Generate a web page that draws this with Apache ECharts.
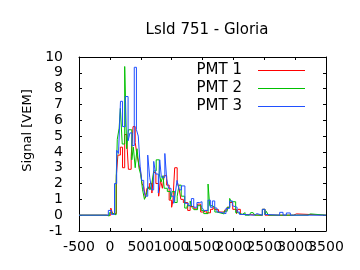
<!DOCTYPE html>
<html><head><meta charset="utf-8">
<script src="https://cdn.jsdelivr.net/npm/echarts@6/dist/echarts.min.js"></script>
<style>html,body{margin:0;padding:0;background:#fff}#c{width:360px;height:270px}</style>
</head><body><div id="c"></div>
<script>
const chartTitle = 'LsId 751 - Gloria';
const yName = 'Signal [VEM]';
const seriesNames = ['PMT 1', 'PMT 2', 'PMT 3'];

// PMT 1 (red): step start times [ns] and values [VEM]
const t1 = [-500,-460,-430,15,45,105,130,170,205,240,275,300,345,375,410,440,470,495,520,548,575,600,640,680,710,745,790,820,850,880,920,960,1000,1020,1050,1090,1120,1150,1190,1260,1300,1360,1420,1470,1520,1560,1630,1670,1700,1760,1860,1900,1940,1990,2050,2075,2113,2150,2470,2512,2976,3020,3500];
const v1 = [0,-0.1,0,0.45,0.1,2.5,3.8,4.3,3.0,5.1,4.6,2.9,3.7,5.6,4.6,3.8,3.2,2.8,2.0,1.8,1.1,1.7,2.0,1.4,2.7,2.0,1.2,2.2,1.7,2.5,1.9,0.95,0.5,0.9,3.0,2.1,1.7,1.0,0.8,0.3,0.55,0.4,0.7,0.2,0.3,0.15,0.37,0.5,0.35,0.2,0.33,0.5,0.8,0.37,0.1,0.37,0.05,0,0.37,0,0.08,0,0];

// PMT 2 (green)
const t2 = [-500,-60,-10,30,60,100,120,150,170,200,240,272,300,355,380,410,440,470,500,530,560,590,620,650,680,710,750,800,830,860,880,930,980,1010,1050,1090,1120,1155,1212,1250,1300,1330,1360,1420,1480,1520,1590,1617,1660,1700,1735,1850,1900,1940,1967,2037,2070,2145,2190,2260,2280,2320,2345,2470,2512,2534,2566,3208,3246,3500];
const v2 = [0,-0.05,0.15,0.05,0.02,2.0,4.8,5.5,6.75,4.5,9.4,4.2,5.4,3.5,4.3,3.0,4.2,3.0,2.55,1.6,1.0,1.3,1.8,1.6,2.0,2.8,3.5,2.6,2.1,2.5,1.7,1.5,1.0,1.5,0.8,1.2,1.9,1.2,0.45,0.6,0.9,0.5,0.35,0.6,0.3,0.1,1.97,0.6,0.5,0.2,0.08,0.25,0.5,1.06,0.85,0.16,0.05,0.16,0,-0.03,0.16,0.05,0,0.37,0.05,0.24,0,0.08,0,0];

// PMT 3 (blue)
const t3 = [-500,-25,25,75,110,140,172,205,250,295,325,360,395,430,460,490,515,548,580,613,645,677,710,742,785,807,834,890,920,950,990,1034,1060,1088,1120,1160,1215,1270,1320,1358,1410,1455,1492,1520,1590,1627,1660,1698,1735,1770,1880,1940,1984,2000,2060,2100,2145,2340,2380,2469,2512,2540,2750,2804,2858,2922,3500];
const v3 = [0,0.3,0.05,2.0,4.1,3.9,7.2,5.6,7.5,4.7,5.2,4.4,9.35,5.4,5.0,3.1,2.2,1.6,1.2,3.8,2.4,1.6,3.4,2.6,1.4,3.5,2.4,3.9,2.3,1.7,1.2,0.75,1.4,2.2,1.6,1.85,0.75,0.6,1.05,0.5,0.8,0.85,0.5,0.3,0.95,0.5,0.9,0.45,0.2,0.1,0.43,0.9,0.6,0.5,0.2,0.05,0,0.1,0,0.37,0.05,0,0.18,0,0.14,0,0];

// tick labels (x labels are split over two label rows so none of them is dropped)
const xTickLabels = [-500, 0, 500, 1000, 1500, 2000, 2500, 3000, 3500];
const xLabelsA = [-500, 500, 1500, 2500, 3500];
const xLabelsB = [0, 1000, 2000, 3000];
const yTickLabels = [-1, 0, 1, 2, 3, 4, 5, 6, 7, 8, 9, 10];
const colors = ['#ff0000', '#00c000', '#2050ff'];

const pairs = (t, v) => t.map((x, i) => [x, v[i]]);
const FONT = 'DejaVu Sans';
const chart = echarts.init(document.getElementById('c'), null, {renderer: 'canvas'});
const xMin = xTickLabels[0], xMax = xTickLabels[xTickLabels.length - 1];
const yMin = yTickLabels[0], yMax = yTickLabels[yTickLabels.length - 1];
const lineOn = {show: true, onZero: false, lineStyle: {color: '#000', width: 1}};
const xTick = {show: true, inside: true, length: 3, lineStyle: {color: '#000'}, customValues: xTickLabels};
const yTick = {show: true, inside: true, length: 3, lineStyle: {color: '#000'}, customValues: yTickLabels};
const plain = v => String(v);
const xLabelStyle = {fontFamily: FONT, fontSize: 14, color: '#000', margin: 9, formatter: plain,
  hideOverlap: false, showMinLabel: true, showMaxLabel: true};
chart.setOption({
  animation: false,
  backgroundColor: '#fff',
  title: {text: chartTitle, left: 202, top: 18, textAlign: 'center',
    textStyle: {fontFamily: FONT, fontSize: 15, fontWeight: 'normal', color: '#000'}},
  grid: {left: 79, right: 34, top: 57, bottom: 39, containLabel: false},
  legend: {orient: 'vertical', right: 50, top: 58, align: 'right', icon: 'rect',
    itemWidth: 47, itemHeight: 1, itemGap: 3,
    data: seriesNames,
    textStyle: {fontFamily: FONT, fontSize: 15, color: '#000', padding: [0, 11, 0, 0]}},
  xAxis: [
    {type: 'value', min: xMin, max: xMax, position: 'bottom', axisLine: lineOn, axisTick: xTick,
      splitLine: {show: false}, axisLabel: Object.assign({customValues: xLabelsA}, xLabelStyle)},
    {type: 'value', min: xMin, max: xMax, position: 'top', axisLine: lineOn, axisTick: xTick,
      splitLine: {show: false}, axisLabel: {show: false}},
    {type: 'value', min: xMin, max: xMax, position: 'bottom', offset: 0, axisLine: {show: false},
      axisTick: {show: false}, splitLine: {show: false},
      axisLabel: Object.assign({customValues: xLabelsB}, xLabelStyle)}
  ],
  yAxis: [
    {type: 'value', min: yMin, max: yMax, position: 'left', axisLine: lineOn, axisTick: yTick,
      splitLine: {show: false},
      name: yName, nameLocation: 'middle', nameGap: 45, nameRotate: 90,
      nameTextStyle: {fontFamily: FONT, fontSize: 13, color: '#000', padding: [0, 0, 0, 27]},
      axisLabel: {fontFamily: FONT, fontSize: 14, color: '#000', margin: 16, formatter: plain,
        customValues: yTickLabels, showMinLabel: true, showMaxLabel: true}},
    {type: 'value', min: yMin, max: yMax, position: 'right', axisLine: lineOn, axisTick: yTick,
      splitLine: {show: false}, axisLabel: {show: false}}
  ],
  series: [[t1, v1], [t2, v2], [t3, v3]].map((d, i) => ({
    name: seriesNames[i], type: 'line', step: 'end', symbol: 'none',
    data: pairs(d[0], d[1]), color: colors[i],
    lineStyle: {width: 1, color: colors[i]}, z: 2 + i
  }))
});
</script></body></html>
